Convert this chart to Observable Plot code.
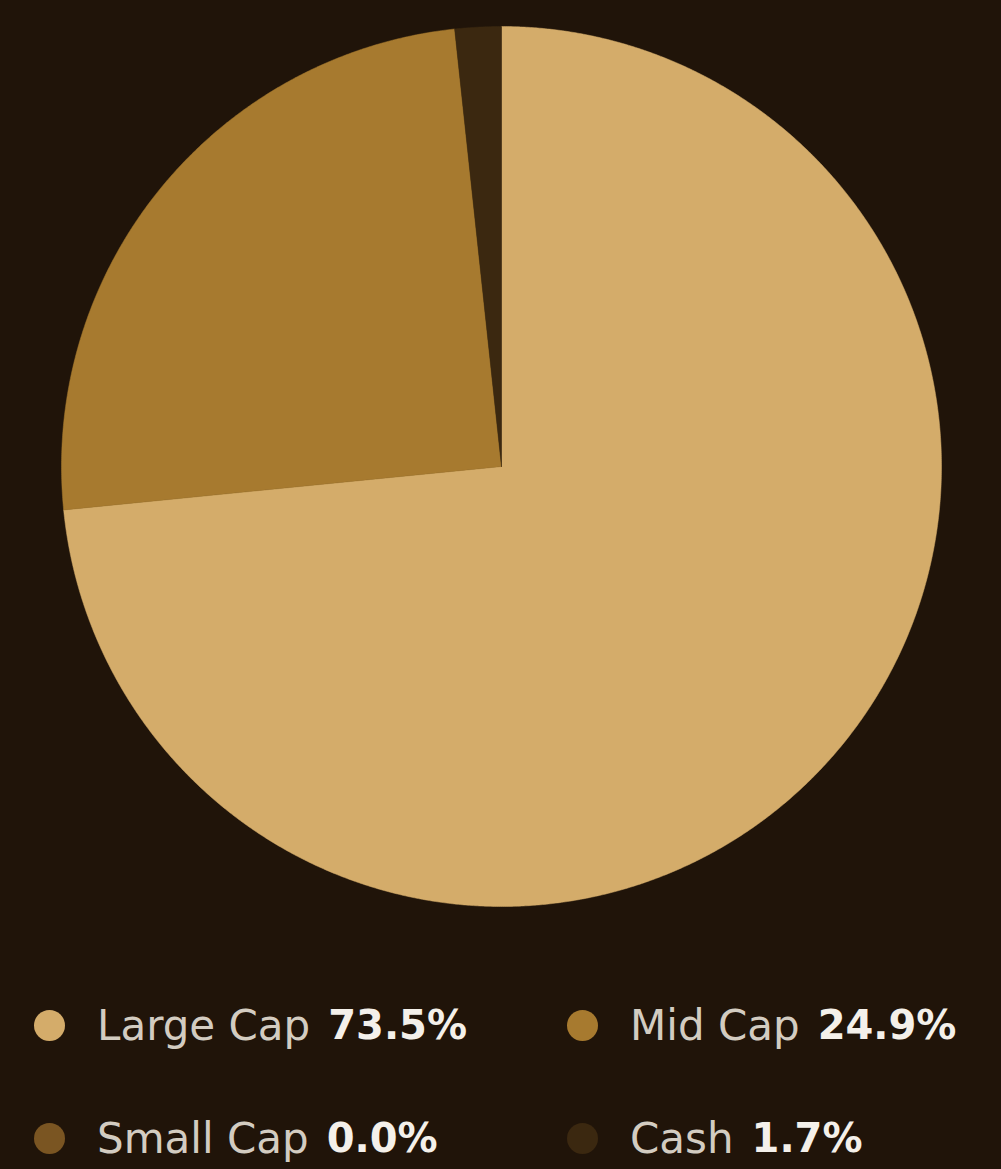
<!DOCTYPE html>
<html>
<head>
<meta charset="utf-8">
<script src="https://cdn.jsdelivr.net/npm/d3@7"></script>
<script src="https://cdn.jsdelivr.net/npm/@observablehq/plot@0.6"></script>
<style>
  html, body { margin: 0; padding: 0; background: #201409; }
  body { width: 1001px; height: 1169px; overflow: hidden; font-family: "DejaVu Sans", sans-serif; }
  #chart svg { display: block; }
  .legend { display: grid; grid-template-columns: 533px 434px; row-gap: 63px; padding: 0 0 0 34px; margin-top: 68px; }
  .item { display: flex; align-items: center; height: 50px; }
  .dot { width: 31px; height: 31px; border-radius: 50%; margin-right: 32px; flex: none; }
  .label { color: #d3ccc1; font-size: 42px; font-weight: 400; }
  .value { color: #f4f0ea; font-size: 40px; font-weight: 700; margin-left: 18px; }
</style>
</head>
<body>
<div id="chart"></div>
<div class="legend" id="legend"></div>
<script>
const categories = ["Large Cap", "Mid Cap", "Small Cap", "Cash"];
const values = [73.5, 24.9, 0.0, 1.7];
const colors = ["#d4ac6a", "#a77a2f", "#7a5522", "#3b2810"];

// build slice polygons (clockwise from 12 o'clock) from cumulative shares
const total = d3.sum(values);
const rows = [];
let acc = 0;
categories.forEach((c, i) => {
  const a0 = acc / total * 2 * Math.PI;
  acc += values[i];
  const a1 = acc / total * 2 * Math.PI;
  if (a1 <= a0) return;
  rows.push({cat: c, x: 0, y: 0});
  const n = Math.max(2, Math.ceil((a1 - a0) / (Math.PI / 720)));
  for (let k = 0; k <= n; k++) {
    const a = a0 + (a1 - a0) * k / n;
    rows.push({cat: c, x: Math.sin(a), y: Math.cos(a)});
  }
  rows.push({cat: c, x: 0, y: 0});
});

const plot = Plot.plot({
  width: 1001,
  height: 932,
  marginLeft: 61,
  marginRight: 60,
  marginTop: 26,
  marginBottom: 26,
  style: {background: "#201409"},
  x: {domain: [-1, 1], axis: null},
  y: {domain: [-1, 1], axis: null},
  color: {domain: categories, range: colors},
  marks: [
    Plot.line(rows, {x: "x", y: "y", z: "cat", fill: "cat", stroke: "cat", strokeWidth: 0.5, curve: "linear"})
  ]
});
document.getElementById("chart").appendChild(plot);

const legend = d3.select("#legend");
categories.forEach((c, i) => {
  const item = legend.append("div").attr("class", "item");
  item.append("span").attr("class", "dot").style("background", colors[i]);
  item.append("span").attr("class", "label").text(c);
  item.append("span").attr("class", "value").text(values[i].toFixed(1) + "%");
});
</script>
</body>
</html>
